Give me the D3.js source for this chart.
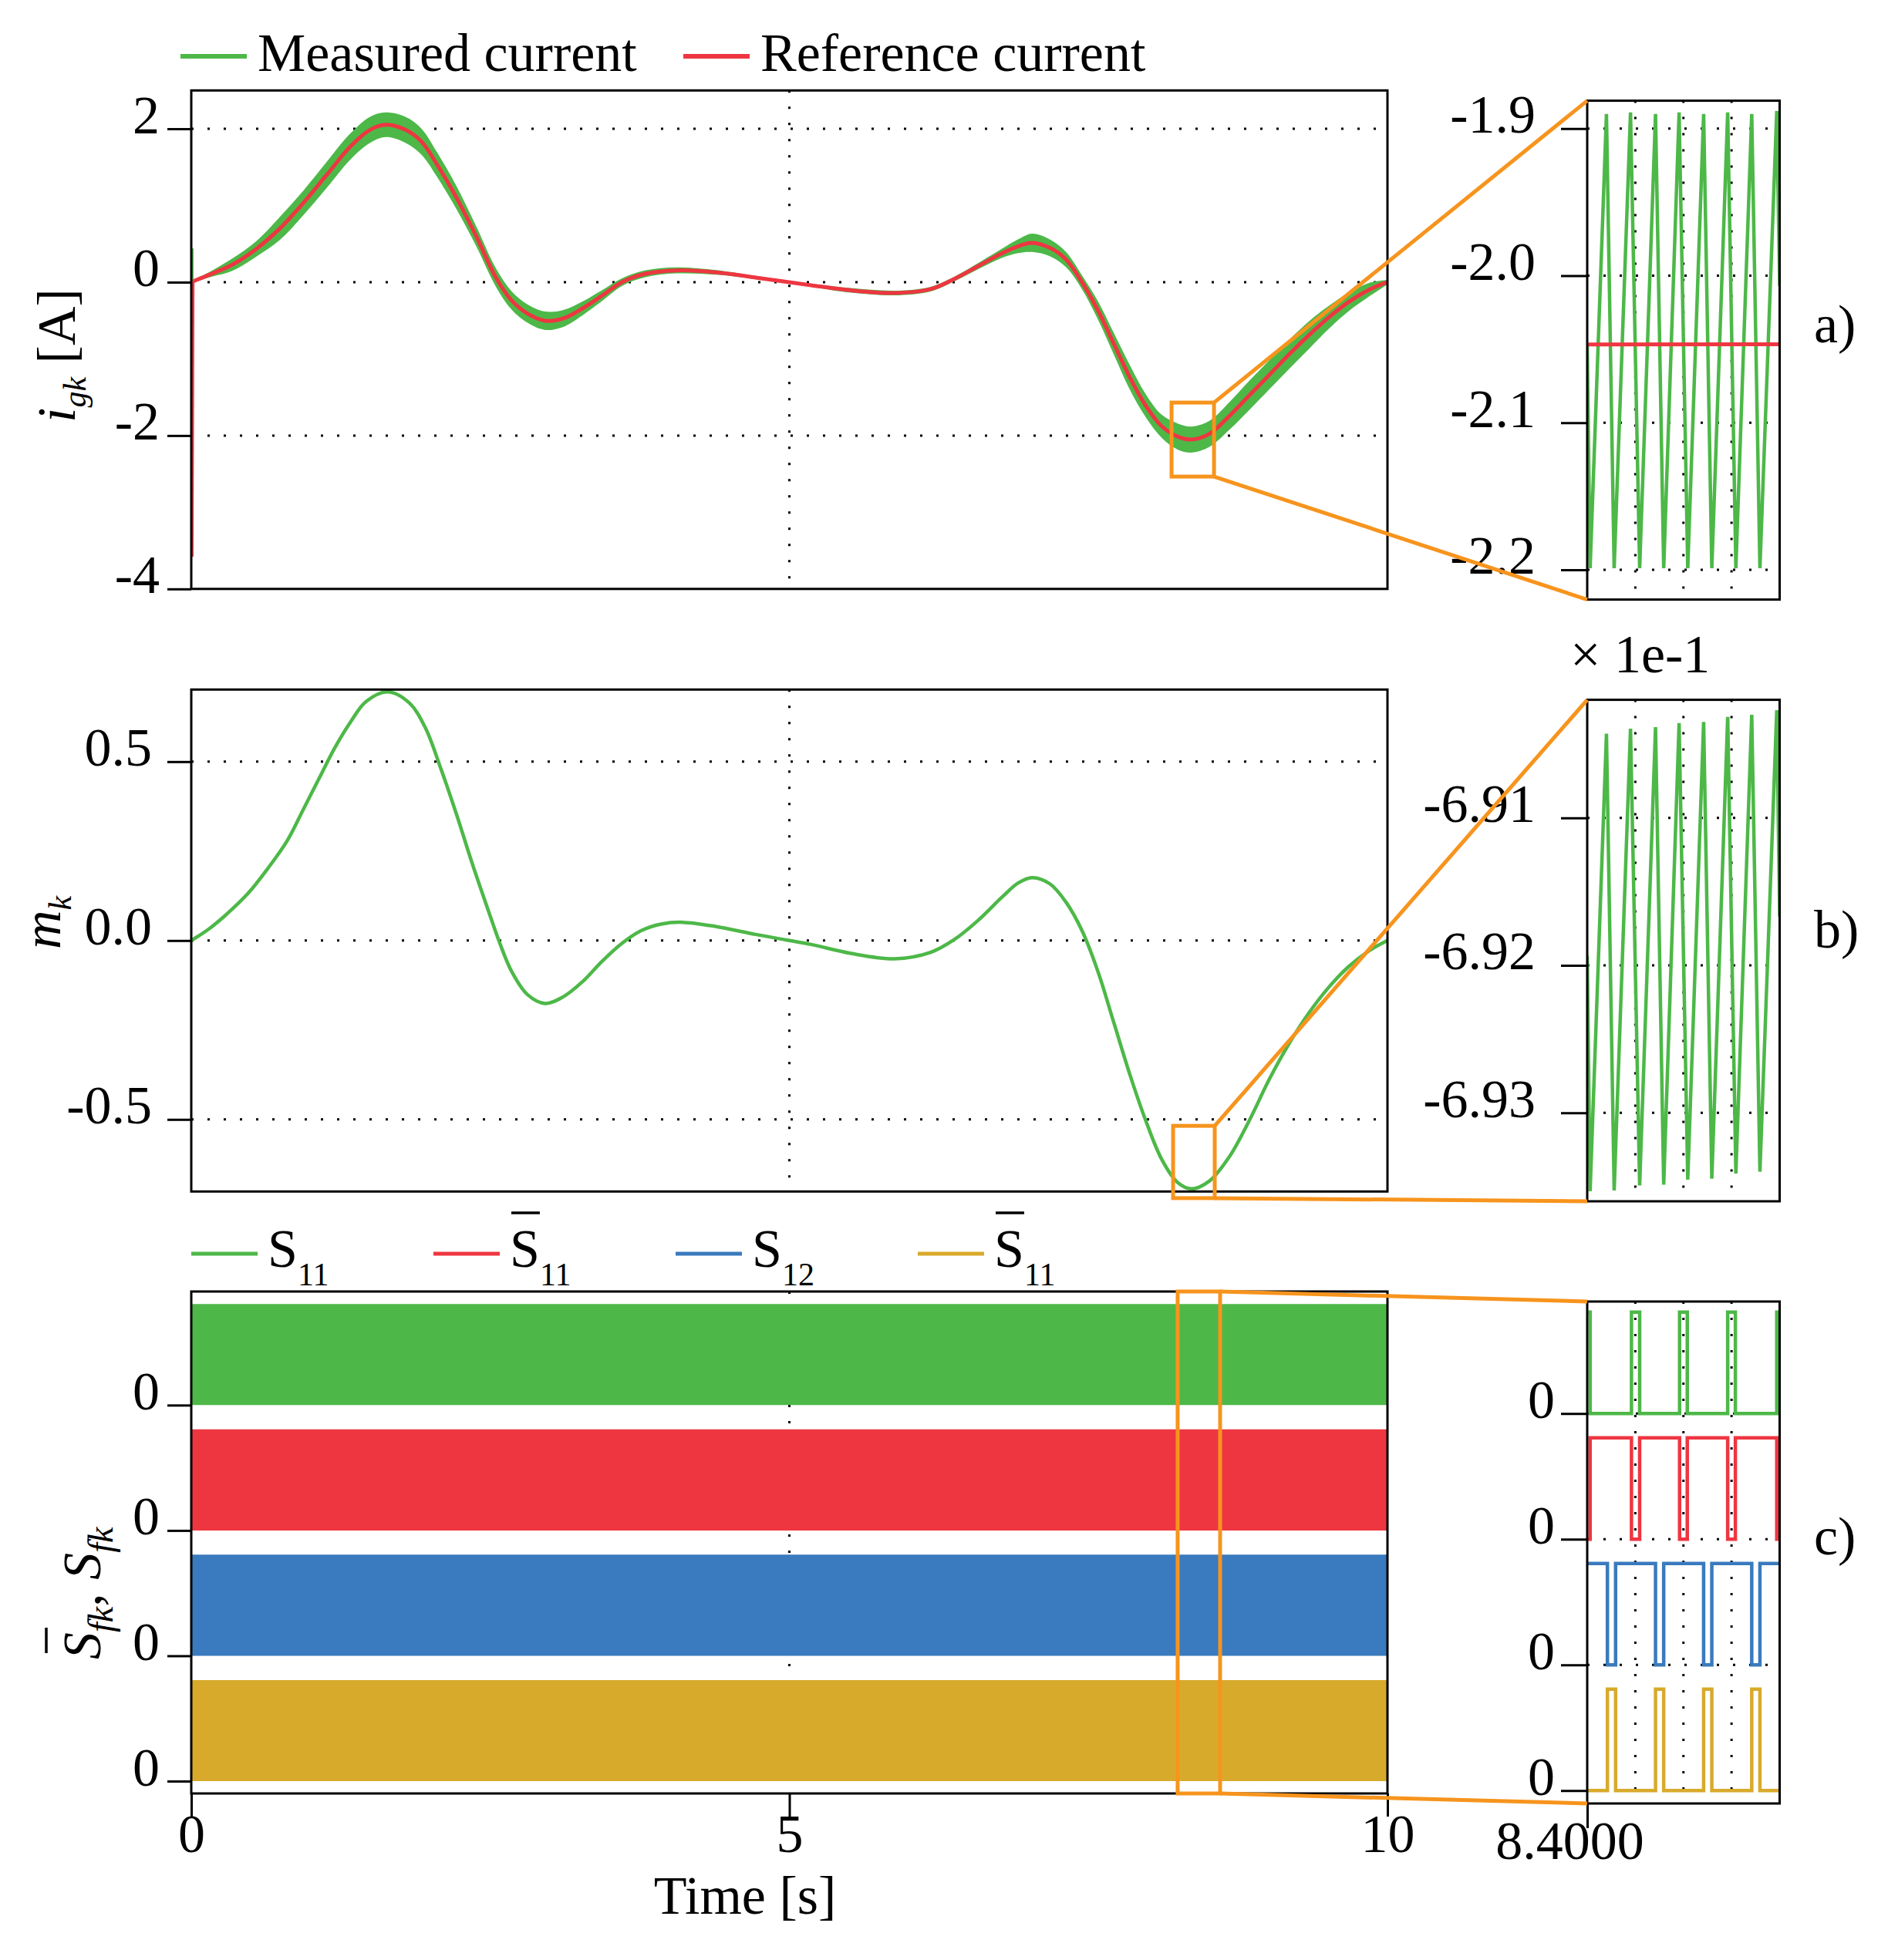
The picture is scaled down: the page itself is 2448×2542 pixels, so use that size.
<!DOCTYPE html>
<html>
<head>
<meta charset="utf-8">
<script src="https://cdnjs.cloudflare.com/ajax/libs/d3/7.8.5/d3.min.js"></script>
<style>
  body { margin: 0; background: #fff; }
  text { font-family: "Liberation Serif", "Times New Roman", serif; fill: #000; }
</style>
</head>
<body>
<div id="chart"></div>
<script>
// ---------- data ----------
// a) grid current: reference and half-width of the measured ripple band
const time_a = [0.006, 0.014, 0.146, 0.343, 0.540, 0.738, 0.936, 1.133, 1.330, 1.495, 1.626, 1.790, 1.922,
  2.054, 2.218, 2.383, 2.547, 2.679, 2.810, 2.958, 3.106, 3.271, 3.435, 3.600, 3.797, 4.061, 4.389, 4.718,
  5.182, 5.515, 5.881, 6.181, 6.380, 6.580, 6.780, 6.913, 7.030, 7.180, 7.313, 7.446, 7.580, 7.713, 7.846,
  7.979, 8.112, 8.245, 8.362, 8.512, 8.679, 8.845, 9.012, 9.178, 9.344, 9.511, 9.678, 9.844, 10];
const i_ref = [-3.58, 0.01, 0.094, 0.228, 0.43, 0.697, 1.032, 1.40, 1.769, 1.987, 2.053, 1.987, 1.836,
  1.535, 1.099, 0.596, 0.06, -0.241, -0.409, -0.503, -0.475, -0.342, -0.174, 0.0, 0.11, 0.154, 0.128, 0.06,
  -0.04, -0.107, -0.141, -0.09, 0.043, 0.211, 0.379, 0.469, 0.513, 0.446, 0.295, 0.0, -0.369, -0.805, -1.241,
  -1.61, -1.878, -2.012, -2.052, -1.978, -1.744, -1.476, -1.209, -0.941, -0.69, -0.457, -0.256, -0.10, 0.0];
const i_ripple = [0, 0.02, 0.034, 0.08, 0.10, 0.15, 0.16, 0.17, 0.17, 0.17, 0.16, 0.17, 0.17,
  0.16, 0.15, 0.13, 0.12, 0.12, 0.12, 0.12, 0.11, 0.09, 0.07, 0.05, 0.045, 0.04, 0.03, 0.02,
  0.02, 0.03, 0.03, 0.03, 0.03, 0.04, 0.06, 0.09, 0.12, 0.11, 0.10, 0.09, 0.12, 0.14, 0.16,
  0.15, 0.15, 0.17, 0.17, 0.17, 0.18, 0.19, 0.19, 0.19, 0.18, 0.15, 0.12, 0.09, 0.03];
// start-up spike of the measured current
const spike_time = [0.006, 0.006];
const spike_i = [0.0, 0.44];

// b) modulation index
const time_b = [0, 0.146, 0.277, 0.475, 0.639, 0.804, 0.936, 1.067, 1.199, 1.330, 1.462, 1.643, 1.823,
  1.955, 2.086, 2.218, 2.349, 2.481, 2.580, 2.679, 2.810, 2.958, 3.106, 3.271, 3.435, 3.600, 3.764,
  3.928, 4.109, 4.389, 4.718, 5.0, 5.182, 5.515, 5.881, 6.181, 6.380, 6.580, 6.780, 6.913, 7.030,
  7.180, 7.313, 7.446, 7.580, 7.713, 7.846, 7.979, 8.112, 8.245, 8.362, 8.512, 8.679, 8.845, 9.012,
  9.178, 9.344, 9.511, 9.678, 9.844, 10];
const m_k = [0, 0.032, 0.068, 0.132, 0.201, 0.280, 0.366, 0.452, 0.538, 0.610, 0.668, 0.695, 0.664,
  0.596, 0.481, 0.352, 0.215, 0.086, -0.008, -0.087, -0.151, -0.176, -0.158, -0.115, -0.058, -0.008, 0.028,
  0.046, 0.051, 0.039, 0.017, 0.0, -0.011, -0.036, -0.051, -0.033, 0.003, 0.057, 0.122, 0.161, 0.176,
  0.158, 0.107, 0.028, -0.087, -0.230, -0.374, -0.503, -0.611, -0.676, -0.694, -0.672, -0.604, -0.503, -0.388,
  -0.288, -0.202, -0.130, -0.072, -0.029, 0.0];

// zoomed windows (insets a and b share the time base)
const zoom_time = [8.400000, 8.400006, 8.400040, 8.400056, 8.400090, 8.400109, 8.400142, 8.400159, 8.400191,
  8.400209, 8.400242, 8.400259, 8.400292, 8.400309, 8.400342, 8.400359, 8.400394, 8.400400];
const i_meas_zoom = [-2.048, -2.199, -1.890, -2.199, -1.889, -2.199, -1.890, -2.199, -1.889,
  -2.199, -1.890, -2.199, -1.889, -2.199, -1.890, -2.199, -1.888, -2.007];
const ref_zoom_time = [8.4000, 8.4004];
const i_ref_zoom = [-2.0468, -2.0466];
const m_k_zoom = [-0.691935, -0.693532, -0.690430, -0.693527, -0.690396, -0.693493, -0.690385, -0.693487, -0.690358,
  -0.693453, -0.690350, -0.693447, -0.690316, -0.693412, -0.690302, -0.693399, -0.690270, -0.691669];

// c) switching signals (full run is a solid PWM band 0..1)
const sw_time = [0, 10];
const sw_low = [0, 0];
const sw_high = [1, 1];
const chan_offset = [3.72, 2.48, 1.24, 0];
const s11_time = [8.400000, 8.400006, 8.400092, 8.400109, 8.400192, 8.400208, 8.400292, 8.400308, 8.400394, 8.400400];
const s11_val = [1, 0, 1, 0, 1, 0, 1, 0, 1, 1];
const s11b_val = [0, 1, 0, 1, 0, 1, 0, 1, 0, 0];
const s12_time = [8.400000, 8.400042, 8.400059, 8.400142, 8.400159, 8.400242, 8.400259, 8.400342, 8.400359, 8.400400];
const s12_val = [1, 0, 1, 0, 1, 0, 1, 0, 1, 1];
const s12b_val = [0, 1, 0, 1, 0, 1, 0, 1, 0, 0];

// zoom rectangles drawn on the main panels: [t0, t1, y_top, y_bottom]
const zoom_t0 = [8.195, 8.208, 8.246];
const zoom_t1 = [8.550, 8.556, 8.601];
const zoom_top = [-1.57, -0.518, 4.844];
const zoom_bot = [-2.535, -0.720, -0.122];

// ticks
const ticks_x = [0, 5, 10];
const ticks_a = [2, 0, -2, -4];
const grid_a = [2, 0, -2];
const ticks_b = [0.5, 0, -0.5];
const ticks_az = [-1.9, -2.0, -2.1, -2.2];
const ticks_bz = [-0.691, -0.692, -0.693];
const ticks_xz = [8.4];
const grid_xz = [8.4001, 8.4002, 8.4003];

const legend_a = ["Measured current", "Reference current"];
const legend_c_sub = ["11", "11", "12", "11"];
const legend_c_bar = [false, true, false, true];

// ---------- styling ----------
const GREEN = "#4db848", RED = "#ee3641", BLUE = "#3a7abe", YELLOW = "#d8aa2b", ORANGE = "#f7941d";
const chan_color = [GREEN, RED, BLUE, YELLOW];
const FONT = '"Liberation Serif", "Times New Roman", serif';
const FS = 70, FS_SUB = 42;
const SMOOTH = d3.curveCatmullRom.alpha(0.5);

const svg = d3.select("#chart").append("svg")
  .attr("width", 2448).attr("height", 2542)
  .style("background", "#fff");

const x = d3.scaleLinear().domain([0, 10]).range([248, 1799]);
const xz = d3.scaleLinear().domain([8.4, 8.4004]).range([2058, 2307.5]);

const ya = d3.scaleLinear().domain([-4, 2.5]).range([763.8, 117.3]);
const yb = d3.scaleLinear().domain([-0.7015, 0.7015]).range([1545.3, 894.3]);
const yc = d3.scaleLinear().domain([-0.122, 4.844]).range([2326, 1675]);
const yaz = d3.scaleLinear().domain([-2.2203, -1.881]).range([777.6, 130.6]);
const ybz = d3.scaleLinear().domain([-0.69360, -0.69020]).range([1558, 907.6]);
const ycz = d3.scaleLinear().domain([-0.127, 4.824]).range([2339, 1688]);

function clip_group(xs, ys, id) {
  svg.append("clipPath").attr("id", id).append("rect")
    .attr("x", xs.range()[0]).attr("y", ys.range()[1])
    .attr("width", xs.range()[1] - xs.range()[0])
    .attr("height", ys.range()[0] - ys.range()[1]);
  return svg.append("g").attr("clip-path", "url(#" + id + ")");
}

function dotted(sel) {
  return sel.attr("stroke", "#000").attr("stroke-width", 3).attr("stroke-dasharray", "3 18");
}

function grid(g, xs, ys, hvals, vvals) {
  g.selectAll(null).data(hvals).enter().append("line")
    .attr("x1", xs.range()[0]).attr("x2", xs.range()[1])
    .attr("y1", d => ys(d)).attr("y2", d => ys(d))
    .call(dotted);
  g.selectAll(null).data(vvals).enter().append("line")
    .attr("x1", d => xs(d)).attr("x2", d => xs(d))
    .attr("y1", ys.range()[1]).attr("y2", ys.range()[0])
    .call(dotted);
}

function frame(xs, ys) {
  svg.append("rect")
    .attr("x", xs.range()[0]).attr("y", ys.range()[1])
    .attr("width", xs.range()[1] - xs.range()[0])
    .attr("height", ys.range()[0] - ys.range()[1])
    .attr("fill", "none").attr("stroke", "#000").attr("stroke-width", 3);
}

function y_axis(xs, ys, vals, fmt, size, pad) {
  const g = svg.append("g")
    .attr("transform", "translate(" + xs.range()[0] + ",0)")
    .call(d3.axisLeft(ys).tickValues(vals).tickFormat(fmt).tickSize(size).tickPadding(pad));
  g.attr("font-family", FONT).attr("font-size", FS);
  g.select(".domain").remove();
  g.selectAll(".tick line").attr("stroke", "#000").attr("stroke-width", 3);
  g.selectAll(".tick text").attr("dy", 5).attr("fill", "#000");
}

function x_axis(xs, ys, vals, fmt, size, text_y, dx) {
  const g = svg.append("g")
    .attr("transform", "translate(0," + ys.range()[0] + ")")
    .call(d3.axisBottom(xs).tickValues(vals).tickFormat(fmt).tickSize(size));
  g.attr("font-family", FONT).attr("font-size", FS);
  g.select(".domain").remove();
  g.selectAll(".tick line").attr("stroke", "#000").attr("stroke-width", 3);
  g.selectAll(".tick text").attr("y", text_y).attr("dy", 0).attr("dx", dx).attr("fill", "#000");
}

// rich text: parts = [{t, italic, sub}]
function rich_text(parent, parts, sub_shift, sub_size) {
  const t = parent.append("text").attr("x", 0).attr("y", 0);
  let shifted = false;
  parts.forEach(function(p) {
    let dy = 0;
    if (p.sub && !shifted) { dy = sub_shift; shifted = true; }
    else if (!p.sub && shifted) { dy = -sub_shift; shifted = false; }
    t.append("tspan").text(p.t)
      .attr("font-style", p.italic ? "italic" : "normal")
      .attr("font-size", p.sub ? (sub_size || FS_SUB) : FS)
      .attr("dy", dy);
  });
  return t;
}

function overline(parent, text_node, idx, slant) {
  const box = text_node.getExtentOfChar(idx);
  parent.append("line")
    .attr("x1", box.x + slant + 2).attr("x2", box.x + box.width + slant)
    .attr("y1", box.y - 8).attr("y2", box.y - 8)
    .attr("stroke", "#000").attr("stroke-width", 3.5);
}

// ---------- panel a ----------
const ga = clip_group(x, ya, "clip-a");
grid(ga, x, ya, grid_a, [5]);
const smooth_idx = d3.range(1, time_a.length);
ga.append("path")
  .datum(smooth_idx)
  .attr("fill", GREEN)
  .attr("d", d3.area().curve(SMOOTH).x(i => x(time_a[i]))
    .y0(i => ya(i_ref[i] - i_ripple[i])).y1(i => ya(i_ref[i] + i_ripple[i])));
ga.append("path")
  .datum(d3.range(spike_time.length))
  .attr("fill", "none").attr("stroke", GREEN).attr("stroke-width", 4)
  .attr("d", d3.line().x(i => x(spike_time[i])).y(i => ya(spike_i[i])));
ga.append("path")
  .datum(smooth_idx)
  .attr("fill", "none").attr("stroke", RED).attr("stroke-width", 5)
  .attr("d", d3.line().curve(SMOOTH).x(i => x(time_a[i])).y(i => ya(i_ref[i])));
ga.append("path")
  .datum([0, 1])
  .attr("fill", "none").attr("stroke", RED).attr("stroke-width", 4)
  .attr("d", d3.line().x(i => x(time_a[i])).y(i => ya(i_ref[i])));
frame(x, ya);
y_axis(x, ya, ticks_a, d => String(d), 31, 10);

// inset a
const gaz = clip_group(xz, yaz, "clip-az");
grid(gaz, xz, yaz, ticks_az, grid_xz);
gaz.append("path")
  .datum(d3.range(zoom_time.length))
  .attr("fill", "none").attr("stroke", GREEN).attr("stroke-width", 4.5)
  .attr("d", d3.line().x(i => xz(zoom_time[i])).y(i => yaz(i_meas_zoom[i])));
gaz.append("path")
  .datum(d3.range(ref_zoom_time.length))
  .attr("fill", "none").attr("stroke", RED).attr("stroke-width", 5)
  .attr("d", d3.line().x(i => xz(ref_zoom_time[i])).y(i => yaz(i_ref_zoom[i])));
frame(xz, yaz);
y_axis(xz, yaz, ticks_az, d => d.toFixed(1), 34, 33);

// ---------- panel b ----------
const gb = clip_group(x, yb, "clip-b");
grid(gb, x, yb, ticks_b, [5]);
gb.append("path")
  .datum(d3.range(time_b.length))
  .attr("fill", "none").attr("stroke", GREEN).attr("stroke-width", 4.5)
  .attr("d", d3.line().curve(SMOOTH).x(i => x(time_b[i])).y(i => yb(m_k[i])));
frame(x, yb);
y_axis(x, yb, ticks_b, d => d.toFixed(1), 31, 20);

// inset b
const gbz = clip_group(xz, ybz, "clip-bz");
grid(gbz, xz, ybz, ticks_bz, grid_xz);
gbz.append("path")
  .datum(d3.range(zoom_time.length))
  .attr("fill", "none").attr("stroke", GREEN).attr("stroke-width", 4.5)
  .attr("d", d3.line().x(i => xz(zoom_time[i])).y(i => ybz(m_k_zoom[i])));
frame(xz, ybz);
y_axis(xz, ybz, ticks_bz, d => (d * 10).toFixed(2), 34, 33);
svg.append("text").attr("x", 2036).attr("y", 872).attr("font-size", FS).text("\u00d7 1e-1");

// ---------- panel c ----------
const gc = clip_group(x, yc, "clip-c");
grid(gc, x, yc, [], [5]);
chan_offset.forEach(function(off, k) {
  gc.append("path")
    .datum(d3.range(sw_time.length))
    .attr("fill", chan_color[k])
    .attr("d", d3.area().x(i => x(sw_time[i]))
      .y0(i => yc(off + sw_low[i])).y1(i => yc(off + sw_high[i])));
});
frame(x, yc);
y_axis(x, yc, chan_offset, () => "0", 31, 10);
x_axis(x, yc, ticks_x, d => String(d), 30, 76, 0);

// inset c
const gcz = clip_group(xz, ycz, "clip-cz");
grid(gcz, xz, ycz, chan_offset, grid_xz);
const steps = [
  [s11_time, s11_val], [s11_time, s11b_val], [s12_time, s12_val], [s12_time, s12b_val]
];
steps.forEach(function(s, k) {
  gcz.append("path")
    .datum(d3.range(s[0].length))
    .attr("fill", "none").attr("stroke", chan_color[k]).attr("stroke-width", 4.5)
    .attr("d", d3.line().curve(d3.curveStepAfter)
      .x(i => xz(s[0][i])).y(i => ycz(chan_offset[k] + s[1][i])));
});
frame(xz, ycz);
y_axis(xz, ycz, chan_offset, () => "0", 34, 8);
x_axis(xz, ycz, ticks_xz, d => d.toFixed(4), 32, 72, -23);

// ---------- legends ----------
legend_a.forEach(function(name, i) {
  const x0 = 234 + i * 652;
  svg.append("line").attr("x1", x0).attr("x2", x0 + 86).attr("y1", 73).attr("y2", 73)
    .attr("stroke", i === 0 ? GREEN : RED).attr("stroke-width", 6);
  svg.append("text").attr("x", x0 + 100).attr("y", 92).attr("font-size", FS).text(name);
});

legend_c_sub.forEach(function(sub, i) {
  const x0 = 248 + i * 314;
  svg.append("line").attr("x1", x0).attr("x2", x0 + 86).attr("y1", 1626).attr("y2", 1626)
    .attr("stroke", chan_color[i]).attr("stroke-width", 5);
  const g = svg.append("g").attr("transform", "translate(" + (x0 + 99) + ",1643)");
  const t = rich_text(g, [{t: "S"}, {t: sub, sub: true}], 24);
  if (legend_c_bar[i]) overline(g, t.node(), 0, 0);
});

// ---------- axis labels ----------
const la = svg.append("g").attr("transform", "translate(97,548) rotate(-90)");
rich_text(la, [{t: "i", italic: true}, {t: "gk", italic: true, sub: true}, {t: " [A]"}], 14);

const lb = svg.append("g").attr("transform", "translate(78,1231) rotate(-90)");
rich_text(lb, [{t: "m", italic: true}, {t: "k", italic: true, sub: true}], 14);

const lc = svg.append("g").attr("transform", "translate(130,2152) rotate(-90)");
const lc_text = rich_text(lc, [
  {t: "S", italic: true}, {t: "fk", italic: true, sub: true}, {t: ", "},
  {t: "S", italic: true}, {t: "fk", italic: true, sub: true}
], 16, 46);
overline(lc, lc_text.node(), 0, 6);

svg.append("text").attr("x", 966).attr("y", 2482).attr("text-anchor", "middle")
  .attr("font-size", FS).text("Time [s]");

[["a)", 444], ["b)", 1229], ["c)", 2016]].forEach(function(p) {
  svg.append("text").attr("x", 2352).attr("y", p[1]).attr("font-size", FS).text(p[0]);
});

// ---------- zoom boxes and connectors ----------
const main_y = [ya, yb, yc];
const inset_y = [yaz, ybz, ycz];
zoom_t0.forEach(function(t0, k) {
  const ys = main_y[k], yi = inset_y[k];
  const x0 = x(t0), x1 = x(zoom_t1[k]);
  const y0 = ys(zoom_top[k]), y1 = ys(zoom_bot[k]);
  svg.append("rect").attr("x", x0).attr("y", y0).attr("width", x1 - x0).attr("height", y1 - y0)
    .attr("fill", "none").attr("stroke", ORANGE).attr("stroke-width", 5);
  svg.append("line").attr("x1", x1).attr("y1", y0).attr("x2", xz.range()[0]).attr("y2", yi.range()[1])
    .attr("stroke", ORANGE).attr("stroke-width", 5);
  svg.append("line").attr("x1", x1).attr("y1", y1).attr("x2", xz.range()[0]).attr("y2", yi.range()[0])
    .attr("stroke", ORANGE).attr("stroke-width", 5);
});
</script>
</body>
</html>
